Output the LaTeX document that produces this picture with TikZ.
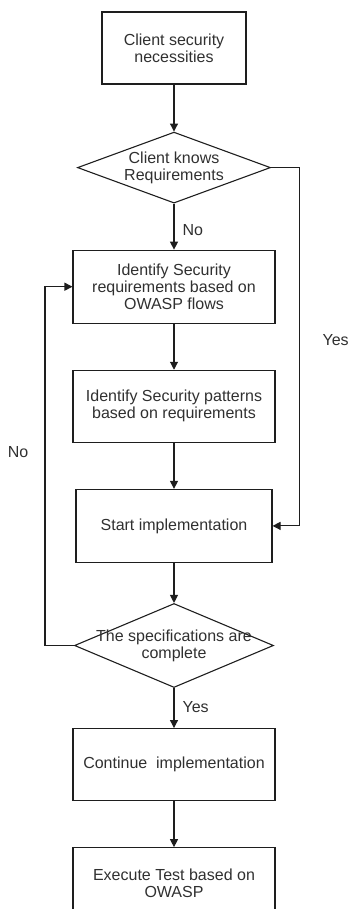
\documentclass[tikz,border=0pt]{standalone}
\usepackage{fontspec}
\setmainfont{Liberation Sans}
\usepackage{xcolor}
\usetikzlibrary{positioning,arrows.meta,shapes.geometric}
\definecolor{linecol}{HTML}{1E1E1E}
\definecolor{textcol}{HTML}{303030}

\begin{document}
\begin{tikzpicture}[
  font=\fontsize{16}{17}\selectfont,
  node distance=46pt,
  process/.style={
    draw=linecol, line width=1.1pt, inner sep=0pt,
    minimum width=202pt, minimum height=72pt, align=center, text=textcol,
  },
  decision/.style={
    diamond, draw=linecol, line width=1.1pt, inner sep=0pt,
  },
  inside/.style={align=center, text=textcol, inner sep=0pt},
  arrow/.style={-{Triangle[length=8pt,width=8pt]}, line width=1.1pt, draw=linecol},
  answer/.style={text=textcol, inner sep=0pt}
]
\clip (0,0) rectangle (349pt,-909pt);

% Top: what the client brings
\node[process, minimum width=144pt] (needs) at (174pt,-48pt) {Client security\\necessities};
\node[decision, minimum width=193pt, minimum height=71pt, below=47pt of needs,
  label={[inside, name=knowstext]center:Client knows\\Requirements}] (knows) {};

% Middle: requirements and patterns
\node[process, minimum height=73pt, below=of knows] (reqs) {Identify Security\\requirements based on\\OWASP flows};
\node[process, below=of reqs] (patterns) {Identify Security patterns\\based on requirements};
\node[process, minimum width=196pt, minimum height=73pt, below=of patterns] (start) {Start implementation};
\node[decision, minimum width=199pt, minimum height=84pt, below=40pt of start,
  label={[inside, name=checktext]center:The specifications are\\complete}] (check) {};

% Bottom: finishing
\node[process, below=40pt of check] (done) {Continue\ \ implementation};
\node[process, below=of done] (test) {Execute Test based on\\OWASP};

% Straight arrows
\draw[arrow] (needs) -- (knows);
\draw[arrow] (knows) -- node[answer, pos=0.57, right=8pt] (noknow) {No} (reqs);
\draw[arrow] (reqs) -- (patterns);
\draw[arrow] (patterns) -- (start);
\draw[arrow] (start) -- (check);
\draw[arrow] (check) -- node[answer, pos=0.48, right=8pt] (yescheck) {Yes} (done);
\draw[arrow] (done) -- (test);

% Side branches
\draw[arrow] (knows.east) -- ++(28pt,0) |- node[answer, pos=0.24, right=23pt] (yesknow) {Yes} (start.east);
\draw[arrow] (check.west) -- ++(-29pt,0) |- node[answer, pos=0.27, left=16pt] (nocheck) {No} (reqs.west);

\end{tikzpicture}
\end{document}
